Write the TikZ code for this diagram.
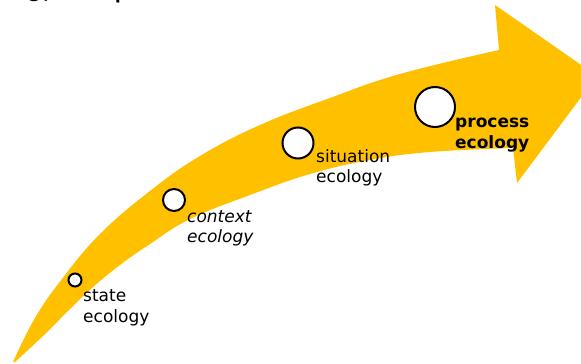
\documentclass[tikz,border=0pt]{standalone}
\usepackage{fontspec}
\setmainfont{DejaVu Sans}
\newfontfamily\titlefont{Carlito}
\definecolor{arrowgold}{HTML}{FFC000}

\begin{document}
\begin{tikzpicture}[x=1pt,y=-1pt,
  stage/.style={circle, draw=black, line width=2pt, fill=white, inner sep=0pt},
  lbl/.style={anchor=base west, inner sep=0pt, align=left,
              font=\fontsize{17}{21}\selectfont},
  headline/.style={anchor=base west, inner sep=0pt,
                   font=\titlefont\fontsize{30}{30}\selectfont}
]
\useasboundingbox (0,0) rectangle (581,364);

% curved growth arrow
\fill[arrowgold]
  plot[smooth, tension=0.7] coordinates {(13,362) (35,318) (62,279) (100,234)
      (150,191) (200,156) (260,125) (330,98) (400,74) (499,50)}
  -- (495,5) -- (597,76) -- (517,183) -- (513,148)
  -- plot[smooth, tension=0.7] coordinates {(513,148) (430,152) (370,160)
      (310,174) (250,195) (190,219) (150,244) (120,265) (92,288) (68,311)
      (43,336) (15,362)}
  -- cycle;

% heading, cut by the top edge
\node[headline] (head1) at (27,-3) {gy};
\node[headline, font=\titlefont\fontsize{34}{34}\selectfont] (head2) at (114,-2) {p};

% stages along the arrow
\node[stage, minimum size=13pt] (state) at (75,280) {};
\node[stage, minimum size=22pt] (context) at (174,200) {};
\node[stage, minimum size=31pt] (situation) at (298,143) {};
\node[stage, minimum size=40pt] (process) at (435,107) {};

% stage names (anchored at the baseline of the second line)
\node[lbl] (stateL) at (83,322) {state\\ecology};
\node[lbl, font=\fontsize{17}{20}\selectfont\itshape] (contextL) at (187,242) {context\\ecology};
\node[lbl, font=\fontsize{17}{20}\selectfont] (situationL) at (316,182) {situation\\ecology};
\node[lbl, font=\fontsize{17}{21}\selectfont\bfseries] (processL) at (455,148) {process\\ecology};
\end{tikzpicture}
\end{document}
